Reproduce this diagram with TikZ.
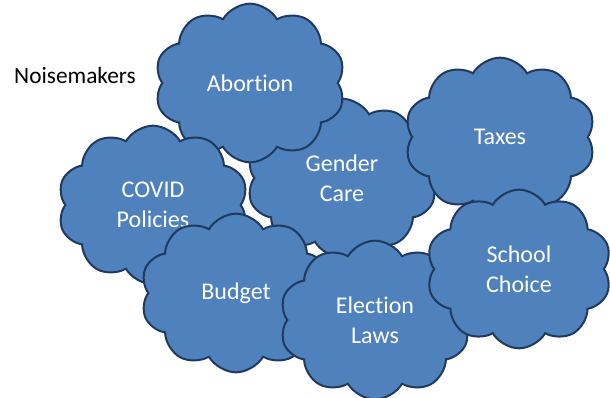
\documentclass[tikz,border=0pt]{standalone}
\usepackage{fontspec}
\setmainfont{Carlito}[Ligatures=NoCommon]
\usetikzlibrary{shapes.symbols}

\definecolor{cloudfill}{HTML}{4F81BD}
\definecolor{cloudline}{HTML}{1F3A5C}

\tikzset{
  issue/.style={cloud, cloud puffs=10, cloud puff arc=120,
    draw=cloudline, fill=cloudfill, line width=1.5pt,
    text=white, align=center, inner sep=0pt,
    font=\fontsize{18}{22.5}\selectfont,
    minimum width=143pt, minimum height=119pt},
}

\begin{document}
\begin{tikzpicture}[x=0.75pt,y=-0.75pt]
\useasboundingbox (0,0) rectangle (610,398);

% Heading
\node[font=\fontsize{17.5}{21}\selectfont] (heading) at (75,75) {Noisemakers};

% Clouds, back to front
\node[issue] (gender) at (342,178) {Gender\\Care};
\node[issue] (abortion) at (250,83) {Abortion};
\node[issue] (covid) at (153,205) {COVID\\Policies};
\node[issue] (budget) at (236,293) {Budget};
\node[issue] (taxes) at (500,137) {Taxes};
\node[issue] (election) at (375,320) {Election\\Laws};
\node[issue, minimum width=139pt] (school) at (519,269) {School\\Choice};

\end{tikzpicture}
\end{document}
